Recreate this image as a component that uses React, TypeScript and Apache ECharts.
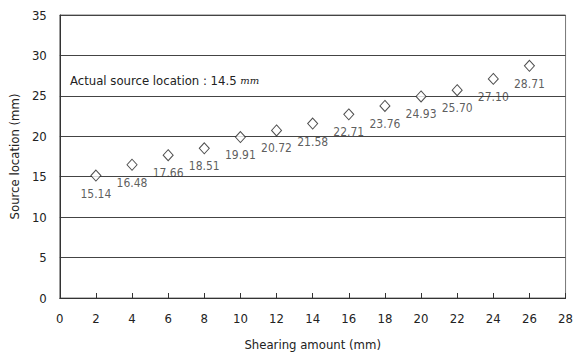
import React, { useEffect, useRef } from "react";
import * as echarts from "echarts";

const shearing = [2, 4, 6, 8, 10, 12, 14, 16, 18, 20, 22, 24, 26];
const location = [15.14, 16.48, 17.66, 18.51, 19.91, 20.72, 21.58, 22.71, 23.76, 24.93, 25.7, 27.1, 28.71];
const labels = ["15.14", "16.48", "17.66", "18.51", "19.91", "20.72", "21.58", "22.71", "23.76", "24.93", "25.70", "27.10", "28.71"];

export default function App() {
  const ref = useRef<HTMLDivElement>(null);
  useEffect(() => {
    document.body.style.margin = "0";
    const chart = echarts.init(ref.current!, null, { renderer: "svg" });
    const font = "'DejaVu Sans Condensed', 'DejaVu Sans'";
    chart.setOption({
      animation: false,
      textStyle: { fontFamily: font },
      grid: { left: 57, right: 8, top: 15, bottom: 54, show: true, borderColor: "#777", borderWidth: 1 },
      xAxis: {
        type: "value",
        min: 0,
        max: 28,
        interval: 2,
        name: "Shearing amount (mm)",
        nameLocation: "middle",
        nameGap: 40,
        nameTextStyle: { fontFamily: font, fontSize: 13, color: "#222" },
        axisLine: { show: true, lineStyle: { color: "#333", width: 1 } },
        axisTick: { show: true, inside: true, length: 5, lineStyle: { color: "#333" } },
        axisLabel: { fontFamily: font, fontSize: 13, color: "#222", margin: 14 },
        splitLine: { show: false },
      },
      yAxis: {
        type: "value",
        min: 0,
        max: 35,
        interval: 5,
        name: "Source location (mm)",
        nameLocation: "middle",
        nameGap: 38,
        nameTextStyle: { fontFamily: font, fontSize: 13, color: "#222" },
        axisLine: { show: true, lineStyle: { color: "#333", width: 1 } },
        axisTick: { show: false },
        axisLabel: { fontFamily: font, fontSize: 13, color: "#222", margin: 13 },
        splitLine: { show: true, lineStyle: { color: "#444", width: 1 } },
      },
      series: [
        {
          type: "scatter",
          data: shearing.map((x, i) => [x, location[i]]),
          symbol: "diamond",
          symbolSize: [10, 11],
          itemStyle: { color: "#fff", borderColor: "#222", borderWidth: 1 },
          label: {
            show: true,
            position: "bottom",
            distance: 6,
            formatter: (p: any) => labels[p.dataIndex],
            fontFamily: font,
            fontSize: 12,
            color: "#333",
          },
        },
      ],
      graphic: [
        {
          type: "text",
          left: 70,
          top: 74,
          style: {
            text: "{a|Actual source location : 14.5 }{b|mm}",
            rich: {
              a: { fontFamily: font, fontSize: 13, fill: "#222" },
              b: { fontFamily: "DejaVu Serif", fontSize: 10, fontStyle: "italic", fill: "#222" },
            },
          },
        },
      ],
    });
    return () => chart.dispose();
  }, []);
  return <div ref={ref} style={{ width: 576, height: 356 }} />;
}
